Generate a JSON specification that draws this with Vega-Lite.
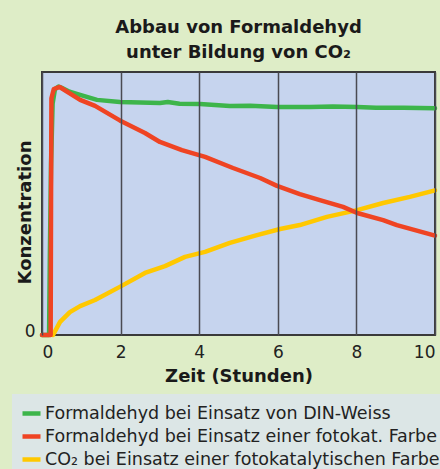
{
  "$schema": "https://vega.github.io/schema/vega-lite/v6.json",
  "autosize": {"type": "none"},
  "padding": {"left": 42, "top": 72, "right": 5, "bottom": 134},
  "width": 393,
  "height": 263,
  "background": "#deedc7",
  "title": {
    "text": ["Abbau von Formaldehyd", "unter Bildung von CO₂"],
    "font": "DejaVu Sans",
    "fontSize": 18,
    "fontWeight": "bold",
    "color": "#1a1a1a",
    "lineHeight": 25,
    "anchor": "middle",
    "baseline": "bottom",
    "offset": 11,
    "dy": 19
  },
  "config": {
    "view": {"fill": "#c6d4ee", "stroke": "#3a3a3a", "strokeWidth": 2},
    "font": "DejaVu Sans"
  },
  "data": {
    "values": [
      {"t": 0, "c": 0, "s": "Formaldehyd bei Einsatz von DIN-Weiss"},
      {"t": 0.18, "c": 0, "s": "Formaldehyd bei Einsatz von DIN-Weiss"},
      {"t": 0.2, "c": 0.3, "s": "Formaldehyd bei Einsatz von DIN-Weiss"},
      {"t": 0.23, "c": 0.65, "s": "Formaldehyd bei Einsatz von DIN-Weiss"},
      {"t": 0.27, "c": 0.88, "s": "Formaldehyd bei Einsatz von DIN-Weiss"},
      {"t": 0.33, "c": 0.935, "s": "Formaldehyd bei Einsatz von DIN-Weiss"},
      {"t": 0.42, "c": 0.945, "s": "Formaldehyd bei Einsatz von DIN-Weiss"},
      {"t": 0.5, "c": 0.94, "s": "Formaldehyd bei Einsatz von DIN-Weiss"},
      {"t": 0.7, "c": 0.925, "s": "Formaldehyd bei Einsatz von DIN-Weiss"},
      {"t": 0.97, "c": 0.913, "s": "Formaldehyd bei Einsatz von DIN-Weiss"},
      {"t": 1.4, "c": 0.894, "s": "Formaldehyd bei Einsatz von DIN-Weiss"},
      {"t": 1.98, "c": 0.886, "s": "Formaldehyd bei Einsatz von DIN-Weiss"},
      {"t": 2.5, "c": 0.884, "s": "Formaldehyd bei Einsatz von DIN-Weiss"},
      {"t": 3.0, "c": 0.882, "s": "Formaldehyd bei Einsatz von DIN-Weiss"},
      {"t": 3.2, "c": 0.886, "s": "Formaldehyd bei Einsatz von DIN-Weiss"},
      {"t": 3.5, "c": 0.879, "s": "Formaldehyd bei Einsatz von DIN-Weiss"},
      {"t": 4.02, "c": 0.878, "s": "Formaldehyd bei Einsatz von DIN-Weiss"},
      {"t": 4.78, "c": 0.871, "s": "Formaldehyd bei Einsatz von DIN-Weiss"},
      {"t": 5.3, "c": 0.872, "s": "Formaldehyd bei Einsatz von DIN-Weiss"},
      {"t": 5.98, "c": 0.867, "s": "Formaldehyd bei Einsatz von DIN-Weiss"},
      {"t": 6.82, "c": 0.867, "s": "Formaldehyd bei Einsatz von DIN-Weiss"},
      {"t": 7.4, "c": 0.869, "s": "Formaldehyd bei Einsatz von DIN-Weiss"},
      {"t": 8.02, "c": 0.867, "s": "Formaldehyd bei Einsatz von DIN-Weiss"},
      {"t": 8.5, "c": 0.864, "s": "Formaldehyd bei Einsatz von DIN-Weiss"},
      {"t": 9.2, "c": 0.864, "s": "Formaldehyd bei Einsatz von DIN-Weiss"},
      {"t": 10.0, "c": 0.862, "s": "Formaldehyd bei Einsatz von DIN-Weiss"},
      {"t": 0.28, "c": 0, "s": "CO₂ bei Einsatz einer fotokatalytischen Farbe"},
      {"t": 0.46, "c": 0.05, "s": "CO₂ bei Einsatz einer fotokatalytischen Farbe"},
      {"t": 0.71, "c": 0.087, "s": "CO₂ bei Einsatz einer fotokatalytischen Farbe"},
      {"t": 0.97, "c": 0.11, "s": "CO₂ bei Einsatz einer fotokatalytischen Farbe"},
      {"t": 1.35, "c": 0.133, "s": "CO₂ bei Einsatz einer fotokatalytischen Farbe"},
      {"t": 1.98, "c": 0.183, "s": "CO₂ bei Einsatz einer fotokatalytischen Farbe"},
      {"t": 2.62, "c": 0.236, "s": "CO₂ bei Einsatz einer fotokatalytischen Farbe"},
      {"t": 3.13, "c": 0.262, "s": "CO₂ bei Einsatz einer fotokatalytischen Farbe"},
      {"t": 3.64, "c": 0.297, "s": "CO₂ bei Einsatz einer fotokatalytischen Farbe"},
      {"t": 4.15, "c": 0.316, "s": "CO₂ bei Einsatz einer fotokatalytischen Farbe"},
      {"t": 4.78, "c": 0.35, "s": "CO₂ bei Einsatz einer fotokatalytischen Farbe"},
      {"t": 5.47, "c": 0.38, "s": "CO₂ bei Einsatz einer fotokatalytischen Farbe"},
      {"t": 6.06, "c": 0.403, "s": "CO₂ bei Einsatz einer fotokatalytischen Farbe"},
      {"t": 6.56, "c": 0.418, "s": "CO₂ bei Einsatz einer fotokatalytischen Farbe"},
      {"t": 7.25, "c": 0.449, "s": "CO₂ bei Einsatz einer fotokatalytischen Farbe"},
      {"t": 8.02, "c": 0.475, "s": "CO₂ bei Einsatz einer fotokatalytischen Farbe"},
      {"t": 8.68, "c": 0.502, "s": "CO₂ bei Einsatz einer fotokatalytischen Farbe"},
      {"t": 9.36, "c": 0.525, "s": "CO₂ bei Einsatz einer fotokatalytischen Farbe"},
      {"t": 10.0, "c": 0.55, "s": "CO₂ bei Einsatz einer fotokatalytischen Farbe"},
      {"t": 0, "c": 0, "s": "Formaldehyd bei Einsatz einer fotokat. Farbe"},
      {"t": 0.22, "c": 0, "s": "Formaldehyd bei Einsatz einer fotokat. Farbe"},
      {"t": 0.23, "c": 0.5, "s": "Formaldehyd bei Einsatz einer fotokat. Farbe"},
      {"t": 0.24, "c": 0.9, "s": "Formaldehyd bei Einsatz einer fotokat. Farbe"},
      {"t": 0.3, "c": 0.935, "s": "Formaldehyd bei Einsatz einer fotokat. Farbe"},
      {"t": 0.45, "c": 0.943, "s": "Formaldehyd bei Einsatz einer fotokat. Farbe"},
      {"t": 0.97, "c": 0.894, "s": "Formaldehyd bei Einsatz einer fotokat. Farbe"},
      {"t": 1.35, "c": 0.871, "s": "Formaldehyd bei Einsatz einer fotokat. Farbe"},
      {"t": 1.98, "c": 0.816, "s": "Formaldehyd bei Einsatz einer fotokat. Farbe"},
      {"t": 2.62, "c": 0.768, "s": "Formaldehyd bei Einsatz einer fotokat. Farbe"},
      {"t": 3.0, "c": 0.734, "s": "Formaldehyd bei Einsatz einer fotokat. Farbe"},
      {"t": 3.56, "c": 0.703, "s": "Formaldehyd bei Einsatz einer fotokat. Farbe"},
      {"t": 4.15, "c": 0.677, "s": "Formaldehyd bei Einsatz einer fotokat. Farbe"},
      {"t": 4.86, "c": 0.635, "s": "Formaldehyd bei Einsatz einer fotokat. Farbe"},
      {"t": 5.55, "c": 0.597, "s": "Formaldehyd bei Einsatz einer fotokat. Farbe"},
      {"t": 5.98, "c": 0.567, "s": "Formaldehyd bei Einsatz einer fotokat. Farbe"},
      {"t": 6.56, "c": 0.536, "s": "Formaldehyd bei Einsatz einer fotokat. Farbe"},
      {"t": 7.07, "c": 0.513, "s": "Formaldehyd bei Einsatz einer fotokat. Farbe"},
      {"t": 7.66, "c": 0.487, "s": "Formaldehyd bei Einsatz einer fotokat. Farbe"},
      {"t": 8.02, "c": 0.464, "s": "Formaldehyd bei Einsatz einer fotokat. Farbe"},
      {"t": 8.68, "c": 0.437, "s": "Formaldehyd bei Einsatz einer fotokat. Farbe"},
      {"t": 9.03, "c": 0.418, "s": "Formaldehyd bei Einsatz einer fotokat. Farbe"},
      {"t": 10.0, "c": 0.378, "s": "Formaldehyd bei Einsatz einer fotokat. Farbe"}
    ]
  },
  "mark": {"type": "line", "strokeWidth": 4.5, "strokeCap": "round", "strokeJoin": "round"},
  "encoding": {
    "x": {
      "field": "t", "type": "quantitative",
      "scale": {"domain": [0, 10], "nice": false},
      "axis": {
        "title": "Zeit (Stunden)",
        "values": [0, 2, 4, 6, 8, 10],
        "ticks": false, "domain": false,
        "grid": true, "gridColor": "#4a4a52", "gridWidth": 1.5, "gridOpacity": 1,
        "zindex": 1,
        "labelFlush": true,
        "labelFont": "DejaVu Sans", "labelFontSize": 17, "labelColor": "#222222",
        "labelPadding": 9,
        "titleFont": "DejaVu Sans", "titleFontSize": 18, "titleFontWeight": "bold",
        "titleColor": "#1a1a1a", "titlePadding": 7
      }
    },
    "y": {
      "field": "c", "type": "quantitative",
      "scale": {"domain": [0, 1], "nice": false},
      "axis": {
        "title": "Konzentration",
        "values": [0],
        "ticks": false, "domain": false, "grid": false,
        "labelFont": "DejaVu Sans", "labelFontSize": 17, "labelColor": "#222222",
        "labelPadding": 7, "labelOffset": -4,
        "titleFont": "DejaVu Sans", "titleFontSize": 18, "titleFontWeight": "bold",
        "titleColor": "#1a1a1a",
        "titleAngle": -90, "titleAlign": "center", "titleBaseline": "alphabetic",
        "titleX": -12, "titleY": 140
      }
    },
    "color": {
      "field": "s", "type": "nominal",
      "scale": {
        "domain": ["Formaldehyd bei Einsatz von DIN-Weiss", "Formaldehyd bei Einsatz einer fotokat. Farbe", "CO₂ bei Einsatz einer fotokatalytischen Farbe"],
        "range": ["#3db54a", "#ef4423", "#ffc800"]
      },
      "legend": {
        "title": null,
        "orient": "none",
        "legendX": -30,
        "legendY": 322,
        "direction": "vertical",
        "fillColor": "#dce6e6",
        "padding": 8,
        "symbolType": "stroke",
        "symbolSize": 324,
        "symbolStrokeWidth": 4.5,
        "labelFont": "DejaVu Sans",
        "labelFontSize": 17.5,
        "labelColor": "#222222",
        "labelOffset": 2,
        "labelLimit": 500,
        "rowPadding": 2
      }
    }
  }
}
